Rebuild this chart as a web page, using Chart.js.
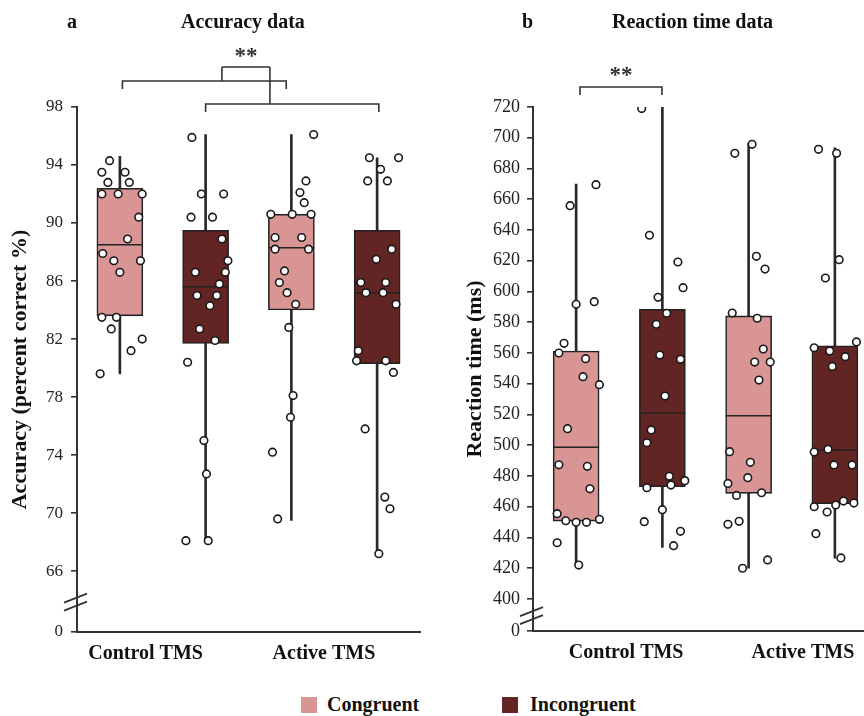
<!DOCTYPE html>
<html>
<head>
<meta charset="utf-8">
<script src="https://cdn.jsdelivr.net/npm/chart.js@4.4.0/dist/chart.umd.min.js"></script>
<style>
  body { margin:0; width:864px; height:716px; overflow:hidden; background:#fff; position:relative;
         font-family:"Liberation Serif","Times New Roman",serif; color:#111 }
  canvas { position:absolute; top:0 }
  .txt { position:absolute; font-weight:bold; font-size:20px; line-height:20px; white-space:nowrap }
  .sq { position:absolute; width:16px; height:16px }
</style>
</head>
<body>
<canvas id="accChart" width="432" height="675" style="left:0"></canvas>
<canvas id="rtChart" width="450" height="675" style="left:440px"></canvas>

<div class="txt" style="left:67px; top:11px">a</div>
<div class="txt" style="left:181px; top:11px">Accuracy data</div>
<div class="txt" style="left:522px; top:11px">b</div>
<div class="txt" style="left:612px; top:11px">Reaction time data</div>

<div class="sq" style="left:301px; top:697px; background:#d99594"></div>
<div class="txt" style="left:327px; top:694px">Congruent</div>
<div class="sq" style="left:502px; top:697px; background:#632523"></div>
<div class="txt" style="left:530px; top:694px">Incongruent</div>

<script>
// columns: control-congruent, control-incongruent, active-congruent, active-incongruent
const groupLabels = ['Control TMS', 'Active TMS']
const conditions = ['Congruent', 'Incongruent']
const colX = [1, 2, 3, 4]

// accuracy (% correct)
const accQ1 = [83.6, 81.7, 84.0, 80.3]
const accQ3 = [92.4, 89.5, 90.6, 89.5]
const accMedian = [88.5, 85.6, 88.3, 85.2]
const accLow = [79.6, 68.0, 69.5, 67.2]
const accHigh = [94.6, 96.1, 96.1, 94.5]
const accTicks = [66, 70, 74, 78, 82, 86, 90, 94, 98]
const accPoints = [
  [94.3, 93.5, 93.5, 92.8, 92.8, 92.0, 92.0, 92.0, 90.4, 88.9, 87.9, 87.4, 87.4, 86.6, 83.5, 83.5, 82.7, 82.0, 81.2, 79.6],
  [95.9, 92.0, 92.0, 90.4, 90.4, 88.9, 87.4, 86.6, 86.6, 85.8, 85.0, 85.0, 84.3, 82.7, 81.9, 80.4, 75.0, 72.7, 68.1, 68.1],
  [96.1, 92.9, 92.1, 91.4, 90.6, 90.6, 90.6, 89.0, 89.0, 88.2, 88.2, 86.7, 85.9, 85.2, 84.4, 82.8, 78.1, 76.6, 74.2, 69.6],
  [94.5, 94.5, 93.7, 92.9, 92.9, 88.2, 87.5, 85.9, 85.9, 85.2, 85.2, 84.4, 81.2, 80.5, 80.5, 79.7, 75.8, 71.1, 70.3, 67.2]
]
const accJitter = [
  [-0.12, -0.21, 0.06, -0.14, 0.11, -0.21, -0.02, 0.26, 0.22, 0.09, -0.20, -0.07, 0.24, 0.00, -0.21, -0.04, -0.10, 0.26, 0.13, -0.23],
  [-0.16, -0.05, 0.21, -0.17, 0.08, 0.19, 0.26, -0.12, 0.23, 0.16, -0.10, 0.13, 0.05, -0.07, 0.11, -0.21, -0.02, 0.01, -0.23, 0.03],
  [0.26, 0.17, 0.10, 0.15, -0.24, 0.01, 0.23, -0.19, 0.12, -0.19, 0.20, -0.08, -0.14, -0.05, 0.05, -0.03, 0.02, -0.01, -0.22, -0.16],
  [-0.09, 0.25, 0.04, -0.11, 0.12, 0.17, -0.01, -0.19, 0.10, -0.13, 0.07, 0.22, -0.22, -0.24, 0.10, 0.19, -0.14, 0.09, 0.15, 0.02]
]

// reaction time (ms)
const rtQ1 = [450.7, 473.0, 468.7, 462.0]
const rtQ3 = [561.3, 588.4, 584.1, 564.7]
const rtMedian = [498.7, 520.8, 519.2, 496.9]
const rtLow = [422.1, 433.6, 420.0, 426.5]
const rtHigh = [669.9, 720.0, 696.4, 693.5]
const rtTicks = [400, 420, 440, 460, 480, 500, 520, 540, 560, 580, 600, 620, 640, 660, 680, 700, 720]
const rtPoints = [
  [655.8, 669.5, 591.7, 593.4, 566.3, 560.0, 556.3, 544.6, 539.4, 510.8, 487.3, 486.3, 471.7, 455.5, 450.9, 449.9, 449.9, 451.8, 436.6, 422.1],
  [719.0, 636.6, 619.2, 602.5, 596.2, 585.8, 578.7, 558.7, 555.9, 532.0, 509.9, 501.7, 479.8, 477.0, 474.1, 472.4, 458.1, 450.3, 444.0, 434.7],
  [695.7, 689.9, 622.9, 614.6, 586.0, 582.6, 562.6, 554.1, 554.1, 542.4, 495.8, 488.9, 478.9, 475.2, 467.4, 469.1, 448.6, 450.5, 425.4, 420.0],
  [692.5, 689.9, 620.7, 608.8, 567.2, 563.4, 561.3, 557.6, 551.3, 495.6, 497.4, 487.2, 487.2, 460.0, 461.1, 463.7, 462.4, 456.6, 442.5, 426.7]
]
const rtJitter = [
  [-0.07, 0.23, 0.00, 0.21, -0.14, -0.20, 0.11, 0.08, 0.27, -0.10, -0.20, 0.13, 0.16, -0.22, -0.12, 0.00, 0.12, 0.27, -0.22, 0.03],
  [-0.24, -0.15, 0.18, 0.24, -0.05, 0.05, -0.07, -0.03, 0.21, 0.03, -0.13, -0.18, 0.08, 0.26, 0.10, -0.18, 0.00, -0.21, 0.21, 0.13],
  [0.04, -0.16, 0.09, 0.19, -0.19, 0.10, 0.17, 0.07, 0.25, 0.12, -0.22, 0.02, -0.01, -0.24, -0.14, 0.15, -0.24, -0.11, 0.22, -0.07],
  [-0.19, 0.02, 0.05, -0.11, 0.25, -0.24, -0.06, 0.12, -0.03, -0.24, -0.08, -0.01, 0.20, -0.24, 0.01, 0.10, 0.22, -0.09, -0.22, 0.07]
]

const FONT = '"Liberation Serif", "Times New Roman", serif'
const INK = '#222'
const condColors = ['#d99594', '#632523']

// median line across each box, drawn right after its box dataset
const medianPlugin = {
  id: 'medians',
  afterDatasetDraw(chart, args) {
    const ds = chart.data.datasets[args.index]
    if (!ds.medians) return
    const ctx = chart.ctx
    const y = chart.scales.y
    ctx.save()
    ctx.strokeStyle = INK
    ctx.lineWidth = 1.5
    args.meta.data.forEach((bar, i) => {
      const py = y.getPixelForValue(ds.medians[i])
      ctx.beginPath()
      ctx.moveTo(bar.x - bar.width / 2, py)
      ctx.lineTo(bar.x + bar.width / 2, py)
      ctx.stroke()
    })
    ctx.restore()
  }
}

// significance brackets and the axis break marks
const extrasPlugin = {
  id: 'extras',
  afterDraw(chart, args, opts) {
    const ctx = chart.ctx
    const x = chart.scales.x
    const y = chart.scales.y
    ctx.save()
    ctx.strokeStyle = '#333'
    ctx.lineWidth = 1.6
    opts.brackets.forEach(b => {
      ctx.beginPath()
      ctx.moveTo(x.getPixelForValue(b.x0), b.y + b.leg)
      ctx.lineTo(x.getPixelForValue(b.x0), b.y)
      ctx.lineTo(x.getPixelForValue(b.x1), b.y)
      ctx.lineTo(x.getPixelForValue(b.x1), b.y + b.leg)
      ctx.stroke()
    })
    opts.links.forEach(l => {
      ctx.beginPath()
      ctx.moveTo(x.getPixelForValue(l[0]), l[1])
      ctx.lineTo(x.getPixelForValue(l[2]), l[3])
      ctx.stroke()
    })
    ctx.fillStyle = '#333'
    ctx.font = 'bold 23px ' + FONT
    ctx.textAlign = 'center'
    ctx.textBaseline = 'middle'
    ctx.fillText('**', x.getPixelForValue(opts.stars.x), opts.stars.y)

    // break marks on the y axis
    const by = y.getPixelForValue(opts.breakAt)
    const bx = chart.chartArea.left
    ctx.lineWidth = 1.8
    ;[-4, 4].forEach(d => {
      ctx.beginPath()
      ctx.moveTo(bx - 13, by + d + 5)
      ctx.lineTo(bx + 10, by + d - 4)
      ctx.stroke()
    })
    ctx.restore()
  }
}

function makePanel(id, p) {
  const boxSets = conditions.map((name, c) => {
    const cols = colX.map((_, i) => i).filter(i => i % 2 === c)
    return {
      type: 'bar',
      label: name,
      data: cols.map(i => ({ x: colX[i], y: [p.q1[i], p.q3[i]] })),
      medians: cols.map(i => p.median[i]),
      backgroundColor: condColors[c],
      borderColor: INK,
      borderWidth: 1.6,
      borderSkipped: false,
      barThickness: 46,
      grouped: false,
      order: 2
    }
  })

  const whiskers = {
    type: 'bar',
    label: 'range',
    data: colX.map((cx, i) => ({ x: cx, y: [p.low[i], p.high[i]] })),
    backgroundColor: '#2a2a2a',
    borderWidth: 0,
    barThickness: 2,
    grouped: false,
    order: 3
  }

  const points = {
    type: 'scatter',
    label: 'participants',
    data: p.points.flatMap((col, i) => col.map((v, k) => ({ x: colX[i] + p.jitter[i][k], y: v }))),
    pointRadius: 3.8,
    pointBorderWidth: 1.6,
    pointBackgroundColor: '#fff',
    pointBorderColor: '#1a1a1a',
    order: 0
  }

  return new Chart(document.getElementById(id), {
    type: 'bar',
    data: { datasets: [whiskers, ...boxSets, points] },
    options: {
      responsive: false,
      animation: false,
      devicePixelRatio: 1,
      layout: { padding: { top: 107, right: 12, left: 0, bottom: 0 } },
      plugins: {
        legend: { display: false },
        tooltip: { enabled: false },
        extras: p.extras
      },
      scales: {
        x: {
          type: 'linear', min: 0.5, max: 4.5, offset: false,
          afterBuildTicks: s => { s.ticks = p.labelAt.map(v => ({ value: v })) },
          ticks: {
            callback: (v, i) => groupLabels[i],
            font: { family: FONT, size: 20, weight: 'bold' }, color: '#111',
            padding: 10, autoSkip: false, maxRotation: 0
          },
          grid: { display: false, drawTicks: false },
          border: { display: true, color: '#333', width: 2 },
          afterFit: s => { s.height = p.xHeight }
        },
        y: {
          min: p.yMin, max: p.yMax,
          afterBuildTicks: s => { s.ticks = [p.yMin, ...p.ticks].map(v => ({ value: v })) },
          ticks: {
            callback: v => v === p.yMin ? '0' : v,
            font: { family: FONT, size: p.tickSize }, color: INK,
            padding: p.tickPad, autoSkip: false
          },
          grid: { drawOnChartArea: false, drawTicks: true, tickLength: 6, color: '#333', lineWidth: 1.6 },
          border: { color: '#333', width: 2 },
          title: {
            display: true, text: p.yTitle, color: '#111',
            font: { family: FONT, size: 22, weight: 'bold' },
            padding: { top: p.titlePad, bottom: 0 }
          },
          afterFit: s => { s.width = p.yWidth }
        }
      }
    },
    plugins: [medianPlugin, extrasPlugin]
  })
}

makePanel('accChart', {
  q1: accQ1, q3: accQ3, median: accMedian, low: accLow, high: accHigh,
  points: accPoints, jitter: accJitter, ticks: accTicks,
  yMin: 61.8, yMax: 98, yTitle: 'Accuracy (percent correct %)',
  labelAt: [1.3, 3.38], yWidth: 77, xHeight: 43, tickSize: 17, tickPad: 8, titlePad: 7,
  extras: {
    brackets: [{ x0: 1.03, x1: 2.94, y: 81, leg: 8 }, { x0: 2.0, x1: 4.02, y: 104, leg: 8 }],
    links: [[2.19, 81, 2.19, 67], [2.75, 104, 2.75, 67], [2.19, 67, 2.75, 67]],
    stars: { x: 2.47, y: 57 },
    breakAt: 63.9
  }
})

makePanel('rtChart', {
  q1: rtQ1, q3: rtQ3, median: rtMedian, low: rtLow, high: rtHigh,
  points: rtPoints, jitter: rtJitter, ticks: rtTicks,
  yMin: 379.2, yMax: 720, yTitle: 'Reaction time (ms)',
  labelAt: [1.58, 3.63], yWidth: 93, xHeight: 44, tickSize: 18, tickPad: 7, titlePad: 22,
  extras: {
    brackets: [{ x0: 1.045, x1: 1.995, y: 87, leg: 8 }],
    links: [],
    stars: { x: 1.52, y: 76 },
    breakAt: 389.5
  }
})
</script>
</body>
</html>
